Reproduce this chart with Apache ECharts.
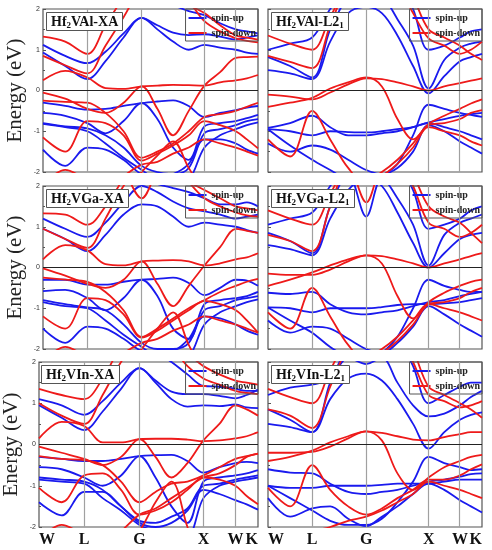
<!DOCTYPE html>
<html>
<head>
<meta charset="utf-8">
<script src="https://cdn.jsdelivr.net/npm/echarts@6/dist/echarts.min.js"></script>
<style>
html, body { margin: 0; padding: 0; background: #fff; }
#main { width: 492px; height: 550px; }
</style>
</head>
<body>
<div id="main"></div>
<script>
// k-path W-L-G-X-W-K, sample points shared by every band
var kpts = [0, 0.354, 0.707, 0.996, 1.284, 1.573, 1.823, 2.073, 2.323, 2.573, 2.823, 3.073, 3.25, 3.427];
var kTicks = [0, 0.707, 1.573, 2.573, 3.073, 3.427];
var kLabels = ['W', 'L', 'G', 'X', 'W', 'K'];
var energyTicks = [-2, -1, 0, 1, 2];
var panelNames = ['VAl-XA', 'VAl-L2', 'VGa-XA', 'VGa-L2', 'VIn-XA', 'VIn-L2'];

// Hf2VAl-XA
var alXaUp = [
    [1.12, 0.85, 0.67, 0.95, 1.4, 1.78, 1.5, 1.2, 1.0, 1.12, 1.05, 1.0, 0.93, 0.9],
    [0.93, 0.6, 0.28, 0.72, 1.3, 1.78, 1.6, 1.42, 1.36, 1.38, 1.32, 1.25, 1.3, 1.35],
    [3, 3, 3, 3, 2.8, 2.5, 2.3, 2.1, 1.95, 1.85, 1.65, 1.5, 1.45, 1.4],
    [-0.3, -0.38, -0.47, -0.45, -0.38, -0.31, -0.27, -0.24, -0.38, -0.65, -0.55, -0.48, -0.42, -0.38],
    [-0.55, -0.62, -0.8, -1.05, -0.75, -0.31, -0.7, -1.4, -1.7, -0.88, -0.8, -0.75, -0.68, -0.6],
    [-0.8, -0.88, -0.93, -1.1, -1.4, -1.85, -2.0, -2.05, -1.9, -1.05, -0.95, -0.85, -0.75, -0.7],
    [-1.45, -1.85, -1.4, -1.45, -1.7, -2.05, -2.1, -2.05, -1.8, -1.2, -1.2, -1.3, -1.45, -1.55],
    [-0.82, -0.9, -1.0, -1.3, -1.65, -1.95, -2.2, -2.3, -2.2, -1.4, -1.1, -0.95, -0.85, -0.78]
];
var alXaDown = [
    [0.25, 0.48, 0.32, 0.06, 0.04, 0.1, 0.12, 0.14, 0.13, 0.12, 0.2, 0.25, 0.3, 0.38],
    [-0.05, -0.2, -0.45, -0.55, -0.3, 0.1, -0.45, -1.1, -0.5, 0.12, 0.45, 0.8, 0.82, 0.83],
    [-0.25, -0.28, -0.3, -0.55, -1.0, -1.65, -1.5, -1.3, -1.0, -0.65, -0.58, -0.5, -0.4, -0.3],
    [-1.15, -1.5, -0.75, -0.8, -1.1, -1.72, -1.55, -1.35, -1.1, -0.75, -0.85, -1.0, -1.2, -1.42],
    [1.32, 1.2, 0.9, 1.6, 2.3, 3, 3, 2.6, 2.2, 1.7, 1.45, 1.28, 1.22, 1.18],
    [0.85, 0.62, 0.42, 1.1, 1.8, 2.5, 2.6, 2.4, 2.1, 1.9, 1.6, 1.35, 1.3, 1.25],
    [-2.3, -1.95, -2.2, -2.4, -2.1, -1.82, -1.75, -1.55, -1.4, -1.2, -1.3, -1.4, -1.5, -1.6],
    [-3, -3, -3, -3, -2.5, -2.0, -1.6, -1.25, -1.9, -2.5, -3, -3, -3, -3]
];

// Hf2VAl-L21
var alL2Up = [
    [0.5, 0.42, 0.28, 1.2, 1.9, 2.05, 1.9, 1.35, 0.6, -0.07, 0.35, 0.72, 0.82, 0.9],
    [0.82, 0.6, 0.32, 1.5, 2.3, 2.6, 2.35, 1.75, 1.1, 0.05, 0.75, 1.05, 1.15, 1.2],
    [1.0, 1.15, 1.3, 2.0, 2.6, 3.0, 3.0, 2.7, 2.0, 1.0, 1.1, 1.3, 1.45, 1.5],
    [-0.95, -1.0, -1.1, -1.0, -1.02, -1.03, -1.0, -0.95, -0.9, -0.8, -0.9, -1.0, -1.1, -1.2],
    [-0.95, -1.35, -1.7, -1.95, -2.2, -2.3, -2.1, -1.8, -1.1, -0.35, -0.45, -0.55, -0.6, -0.65],
    [-1.3, -1.5, -1.35, -1.45, -1.7, -1.95, -2.05, -1.9, -1.5, -0.85, -1.0, -1.25, -1.4, -1.55],
    [-0.92, -0.8, -0.62, -0.9, -1.1, -1.1, -1.05, -1.0, -0.9, -0.78, -0.7, -0.62, -0.58, -0.55]
];
var alL2Down = [
    [-0.4, -0.3, -0.18, 0.05, 0.2, 0.32, 0.1, -0.7, -1.2, -0.82, -0.62, -0.45, -0.32, -0.22],
    [-0.1, -0.15, -0.22, -0.05, 0.15, 0.3, 0.28, 0.2, 0.1, 0.0, 0.1, 0.18, 0.24, 0.3],
    [-1.2, -1.62, -0.5, -1.2, -1.9, -2.3, -2.1, -1.8, -1.4, -0.85, -0.8, -0.7, -0.55, -0.48],
    [0.85, 0.7, 0.55, 1.6, 2.6, 3.0, 3.0, 2.6, 1.9, 1.28, 1.1, 0.9, 1.0, 1.2],
    [1.35, 1.15, 1.0, 1.8, 2.6, 3.0, 3.0, 3.0, 2.3, 1.5, 1.3, 1.1, 0.9, 0.75],
    [-2.5, -2.2, -2.1, -2.3, -2.3, -2.2, -2.0, -1.7, -1.3, -0.9, -1.0, -1.1, -1.25, -1.35]
];

// Hf2VGa-XA
var gaXaUp = [
    [1.2, 0.95, 0.75, 1.1, 1.6, 2.0, 1.85, 1.62, 1.45, 1.38, 1.3, 1.2, 1.25, 1.3],
    [0.95, 0.7, 0.4, 0.8, 1.3, 1.55, 1.5, 1.25, 1.0, 1.1, 1.05, 1.0, 0.92, 0.85],
    [3, 3, 3, 3, 2.6, 2.2, 2.05, 1.95, 1.85, 1.7, 1.55, 1.55, 1.6, 1.5],
    [-0.3, -0.3, -0.42, -0.42, -0.35, -0.3, -0.28, -0.25, -0.38, -0.68, -0.5, -0.3, -0.32, -0.45],
    [-0.58, -0.55, -0.75, -1.05, -0.75, -0.3, -0.7, -1.5, -1.75, -0.9, -0.8, -0.75, -0.7, -0.6],
    [-0.8, -0.9, -0.98, -1.05, -1.4, -1.85, -2.0, -2.0, -1.85, -1.05, -0.95, -0.8, -0.75, -0.7],
    [-1.5, -1.85, -1.45, -1.5, -1.75, -2.05, -2.1, -2.05, -1.75, -1.2, -1.25, -1.4, -1.55, -1.65],
    [-0.85, -0.95, -1.0, -1.3, -1.65, -1.95, -2.2, -2.3, -2.2, -1.4, -1.1, -0.95, -0.85, -0.78]
];
var gaXaDown = [
    [0.2, 0.55, 0.42, 0.08, 0.05, 0.15, 0.17, 0.18, 0.15, 0.05, 0.1, 0.2, 0.25, 0.35],
    [-0.02, -0.2, -0.4, -0.5, -0.3, 0.15, -0.4, -0.95, -0.45, 0.05, 0.5, 0.95, 0.9, 0.85],
    [-0.25, -0.3, -0.35, -0.6, -1.05, -1.7, -1.5, -1.25, -1.0, -0.8, -0.6, -0.45, -0.35, -0.28],
    [-1.2, -1.5, -0.75, -0.8, -1.15, -1.72, -1.55, -1.3, -1.05, -0.82, -0.9, -1.05, -1.3, -1.6],
    [1.33, 1.3, 1.05, 1.5, 2.2, 3, 3, 2.6, 2.1, 1.7, 1.5, 1.35, 1.28, 1.25],
    [0.95, 0.7, 0.48, 1.2, 2.0, 2.5, 2.5, 2.3, 2.1, 1.9, 1.7, 1.5, 1.45, 1.4],
    [3, 3, 3, 3, 2.4, 1.7, 2.4, 3, 3, 3, 3, 3, 3, 3],
    [-2.3, -1.95, -2.2, -2.4, -2.1, -1.85, -1.75, -1.55, -1.4, -1.2, -1.3, -1.4, -1.5, -1.6],
    [-3, -3, -3, -3, -2.5, -2.0, -1.5, -1.1, -1.9, -2.6, -3, -3, -3, -3]
];

// Hf2VGa-L21
var gaL2Up = [
    [0.55, 0.45, 0.3, 1.2, 1.9, 2.2, 2.0, 1.35, 0.6, 0.0, 0.35, 0.7, 0.8, 0.85],
    [0.85, 0.65, 0.35, 1.5, 2.3, 1.25, 2.2, 1.7, 1.05, 0.05, 0.8, 1.1, 1.2, 1.3],
    [1.05, 1.2, 1.35, 2.0, 2.6, 3.0, 3.0, 2.6, 1.9, 0.95, 1.05, 1.2, 1.4, 1.5],
    [-0.98, -1.0, -1.1, -1.0, -1.0, -1.0, -0.97, -0.92, -0.9, -0.9, -0.88, -0.85, -0.8, -0.75],
    [-0.98, -1.3, -1.6, -1.95, -2.2, -2.3, -2.1, -1.7, -1.0, -0.3, -0.45, -0.55, -0.6, -0.6],
    [-1.3, -1.6, -1.45, -1.5, -1.75, -2.0, -2.1, -1.85, -1.45, -0.95, -1.15, -1.4, -1.55, -1.7],
    [-0.62, -0.65, -0.6, -0.9, -1.1, -1.15, -1.1, -1.05, -0.95, -0.85, -0.8, -0.7, -0.65, -0.6]
];
var gaL2Down = [
    [-0.45, -0.3, -0.12, 0.05, 0.2, 0.3, 0.1, -0.7, -1.25, -0.85, -0.62, -0.45, -0.35, -0.3],
    [-0.15, -0.18, -0.18, -0.05, 0.15, 0.3, 0.28, 0.2, 0.1, 0.0, 0.1, 0.2, 0.28, 0.35],
    [-1.1, -1.5, -0.5, -1.2, -1.9, -2.3, -2.1, -1.8, -1.4, -0.9, -0.85, -0.75, -0.6, -0.5],
    [0.8, 0.65, 0.4, 1.5, 2.5, 1.6, 2.5, 2.7, 2.0, 1.1, 0.95, 0.75, 0.85, 1.05],
    [1.4, 1.2, 1.05, 1.8, 2.6, 3.0, 3.0, 3.0, 2.3, 1.5, 1.25, 1.1, 0.85, 0.6],
    [-2.5, -2.2, -2.1, -2.3, -2.3, -2.2, -2.0, -1.7, -1.3, -0.9, -1.0, -1.1, -1.2, -1.3]
];

// Hf2VIn-XA
var inXaUp = [
    [1.1, 0.95, 0.72, 1.05, 1.5, 1.85, 1.5, 1.1, 0.92, 0.95, 0.93, 0.97, 0.9, 0.88],
    [0.95, 0.65, 0.35, 0.8, 1.35, 1.85, 1.55, 1.28, 1.22, 1.22, 1.18, 1.12, 1.2, 1.33],
    [3, 3, 3, 3, 2.8, 2.5, 2.25, 2.0, 1.7, 1.42, 1.4, 1.35, 1.3, 1.3],
    [-0.3, -0.35, -0.4, -0.4, -0.35, -0.28, -0.26, -0.25, -0.4, -0.68, -0.55, -0.45, -0.42, -0.45],
    [-0.55, -0.6, -0.8, -1.0, -0.75, -0.28, -0.8, -1.5, -1.9, -0.9, -0.8, -0.75, -0.7, -0.62],
    [-0.8, -0.85, -0.9, -1.1, -1.5, -1.85, -1.9, -1.75, -1.55, -1.0, -0.95, -0.85, -0.8, -0.75],
    [-1.4, -1.72, -1.15, -1.15, -1.5, -1.9, -2.0, -1.9, -1.6, -1.1, -1.2, -1.35, -1.45, -1.58],
    [-0.85, -0.9, -0.95, -1.3, -1.6, -1.95, -2.1, -2.2, -2.2, -1.3, -1.0, -0.9, -0.85, -0.8]
];
var inXaDown = [
    [0.15, 0.55, 0.45, 0.05, 0.05, 0.13, 0.14, 0.14, 0.12, 0.08, 0.1, 0.15, 0.2, 0.3],
    [-0.05, -0.2, -0.35, -0.5, -0.3, 0.13, -0.3, -0.8, -0.45, 0.1, 0.5, 0.95, 0.85, 0.7],
    [-0.28, -0.35, -0.38, -0.5, -0.9, -1.4, -1.15, -0.95, -0.9, -0.75, -0.55, -0.35, -0.28, -0.22],
    [-1.05, -1.4, -0.75, -0.7, -1.1, -1.7, -1.6, -1.4, -1.1, -0.8, -0.85, -1.0, -1.25, -1.45],
    [1.35, 1.2, 1.1, 1.6, 2.4, 3, 3, 2.4, 1.9, 1.6, 1.45, 1.3, 1.25, 1.22],
    [1.0, 0.7, 0.5, 1.2, 2.0, 2.6, 2.6, 2.4, 2.2, 1.9, 1.7, 1.55, 1.5, 1.45],
    [-2.3, -1.95, -2.2, -2.4, -2.1, -1.7, -1.55, -1.3, -1.05, -0.8, -0.7, -0.5, -0.3, -0.22],
    [-3, -3, -3, -3, -2.6, -2.1, -1.4, -0.9, -2.0, -3, -3, -3, -3, -3]
];

// Hf2VIn-L21
var inL2Up = [
    [0.5, 0.42, 0.3, 1.1, 1.6, 1.72, 1.55, 1.1, 0.5, -0.1, 0.3, 0.6, 0.72, 0.78],
    [1.2, 1.38, 1.45, 1.6, 2.1, 1.95, 2.1, 1.5, 0.95, 0.68, 0.75, 0.95, 1.15, 1.3],
    [0.85, 0.6, 0.3, 1.5, 2.4, 3, 3, 2.6, 1.9, 1.0, 1.2, 1.4, 1.5, 1.5],
    [-1.0, -1.05, -1.05, -1.0, -1.0, -1.0, -0.98, -0.95, -0.95, -0.95, -0.9, -0.85, -0.85, -0.85],
    [-1.0, -1.3, -1.6, -1.85, -1.95, -1.95, -1.8, -1.4, -0.9, -0.3, -0.45, -0.55, -0.62, -0.6],
    [-1.3, -1.75, -1.55, -1.5, -1.8, -1.98, -1.75, -1.5, -1.2, -0.95, -1.1, -1.35, -1.5, -1.65],
    [-0.6, -0.68, -0.7, -0.95, -1.15, -1.2, -1.15, -1.1, -1.0, -0.9, -0.85, -0.78, -0.72, -0.7]
];
var inL2Down = [
    [-0.4, -0.3, -0.15, 0.05, 0.2, 0.32, 0.1, -0.7, -1.1, -0.8, -0.55, -0.4, -0.3, -0.25],
    [-0.2, -0.2, -0.18, -0.05, 0.15, 0.32, 0.28, 0.2, 0.12, 0.1, 0.18, 0.25, 0.3, 0.3],
    [-1.05, -1.5, -0.5, -1.1, -1.5, -1.7, -1.55, -1.3, -1.1, -0.85, -0.85, -0.75, -0.6, -0.48],
    [0.85, 0.7, 0.4, 1.4, 2.4, 3, 3, 2.8, 2.0, 1.2, 1.05, 0.9, 0.95, 1.05],
    [1.35, 1.15, 1.0, 1.8, 2.6, 3, 3, 3, 2.3, 1.4, 1.2, 1.0, 0.85, 0.65],
    [-2.5, -2.2, -2.1, -2.0, -1.85, -1.75, -1.6, -1.4, -1.2, -0.9, -1.0, -1.1, -1.2, -1.3]
];

var upBands = [alXaUp, alL2Up, gaXaUp, gaL2Up, inXaUp, inL2Up];
var downBands = [alXaDown, alL2Down, gaXaDown, gaL2Down, inXaDown, inL2Down];

var blue = '#1a1aee';
var red = '#ee1a1a';
var serif = 'Liberation Serif';

var gridPos = [
    {left: 43, top: 9, width: 215, height: 163},
    {left: 268, top: 9, width: 214, height: 163},
    {left: 43, top: 186, width: 215, height: 163},
    {left: 268, top: 186, width: 214, height: 163},
    {left: 38, top: 362, width: 220, height: 165},
    {left: 268, top: 362, width: 214, height: 165}
];

function kName(v) {
    for (var i = 0; i < kTicks.length; i++) {
        if (Math.abs(kTicks[i] - v) < 1e-6) return kLabels[i];
    }
    return '';
}

var grids = [], xAxes = [], yAxes = [], titles = [], legends = [], series = [];

gridPos.forEach(function (p, i) {
    var leftCol = i % 2 === 0;
    var bottomRow = i >= 4;
    grids.push({
        left: p.left, top: p.top, width: p.width, height: p.height,
        show: true, borderColor: '#555', borderWidth: 1.2
    });
    xAxes.push({
        type: 'value', gridIndex: i, min: 0, max: 3.427,
        axisLine: {show: false},
        axisTick: {show: false},
        splitLine: {show: false},
        axisLabel: {
            show: bottomRow,
            customValues: kTicks,
            formatter: kName,
            alignMinLabel: 'left',
            alignMaxLabel: 'right',
            margin: 5,
            fontFamily: serif, fontWeight: 'bold', fontSize: 16, color: '#111'
        }
    });
    yAxes.push({
        type: 'value', gridIndex: i, min: -2, max: 2, interval: 1,
        name: leftCol ? 'Energy (eV)' : '',
        nameLocation: 'middle', nameGap: 17,
        nameTextStyle: {fontFamily: serif, fontSize: 21, color: '#222'},
        axisLine: {show: false},
        axisTick: {show: true, inside: true, length: 3, lineStyle: {color: '#555'}},
        minorTick: {show: true, splitNumber: 2, length: 2, lineStyle: {color: '#555'}},
        splitLine: {show: false},
        axisLabel: {
            show: leftCol, margin: 3,
            fontFamily: 'Liberation Sans', fontSize: 7, color: '#333',
            customValues: energyTicks
        }
    });

    var sub = i % 2 === 1 ? '{s|1}' : '';
    titles.push({
        text: '{b|Hf}{s|2}{b|' + panelNames[i] + '}' + sub,
        left: p.left + 3, top: p.top + 3,
        padding: [2, 5, 1, 5],
        backgroundColor: '#fff', borderColor: '#555', borderWidth: 1,
        textStyle: {
            rich: {
                b: {fontFamily: serif, fontWeight: 'bold', fontSize: 14, color: '#111', lineHeight: 16},
                s: {fontFamily: serif, fontWeight: 'bold', fontSize: 9, color: '#111', lineHeight: 16, padding: [7, 0, 0, 0]}
            }
        }
    });
    legends.push({
        data: ['spin-up', 'spin-down'],
        orient: 'vertical',
        right: 492 - (p.left + p.width), top: p.top,
        icon: 'rect',
        itemWidth: 18, itemHeight: 2, itemGap: 5,
        padding: [4, 2, 3, 3],
        borderColor: '#555', borderWidth: 1,
        selectedMode: false,
        textStyle: {fontFamily: serif, fontWeight: 'bold', fontSize: 10, color: '#222'}
    });

    // high-symmetry lines and the Fermi level
    series.push({
        type: 'line', xAxisIndex: i, yAxisIndex: i, data: [], silent: true, z: 1,
        markLine: {
            symbol: 'none', silent: true, label: {show: false}, animation: false,
            data: kTicks.slice(1, 5).map(function (k) {
                return {xAxis: k, lineStyle: {color: '#a0a0a0', width: 1.2, type: 'solid'}};
            }).concat([{yAxis: 0, lineStyle: {color: '#222', width: 1.2, type: 'solid'}}])
        }
    });

    [[upBands[i], 'spin-up', blue], [downBands[i], 'spin-down', red]].forEach(function (set) {
        set[0].forEach(function (band) {
            series.push({
                type: 'line', name: set[1], xAxisIndex: i, yAxisIndex: i,
                data: kpts.map(function (k, j) { return [k, band[j]]; }),
                smooth: 0.35, symbol: 'none', showSymbol: false, silent: true,
                lineStyle: {color: set[2], width: 1.8},
                itemStyle: {color: set[2]},
                z: 3
            });
        });
    });
});

var myChart = echarts.init(document.getElementById('main'));
myChart.setOption({
    animation: false,
    backgroundColor: '#fff',
    title: titles,
    legend: legends,
    grid: grids,
    xAxis: xAxes,
    yAxis: yAxes,
    series: series
});
</script>
</body>
</html>
